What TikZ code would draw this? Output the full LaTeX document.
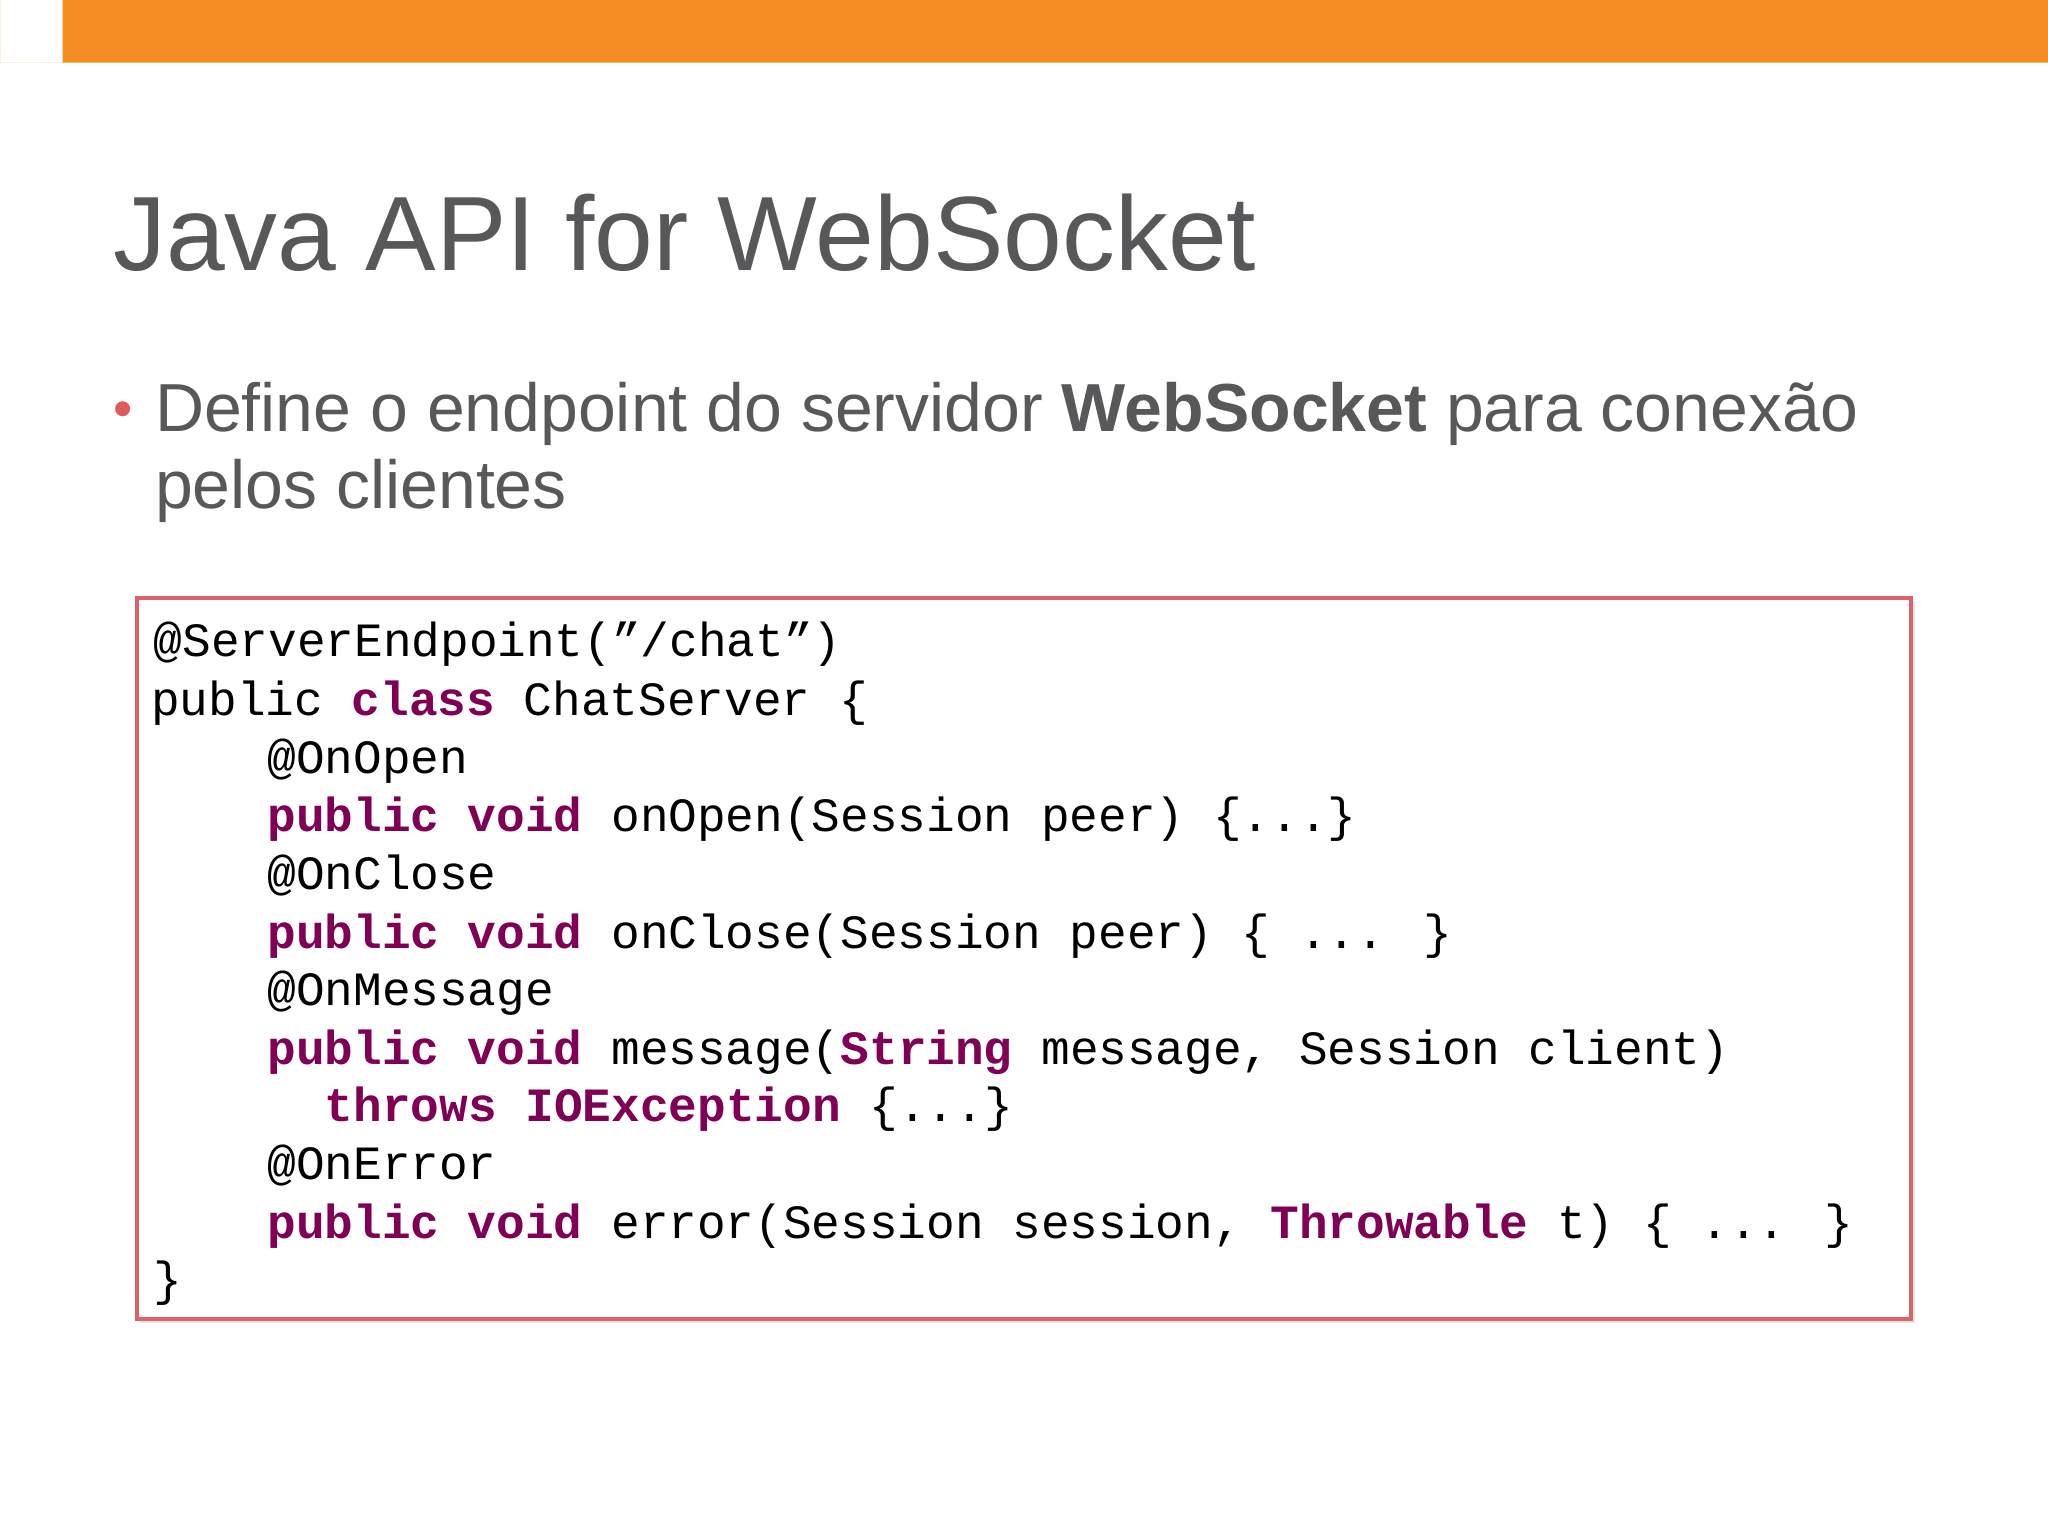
\documentclass[tikz,border=0pt]{standalone}
\usepackage{fontspec}
\setmainfont{Liberation Sans}
\newfontfamily\codefont{Liberation Mono}
\definecolor{orangebar}{HTML}{F28C23}
\definecolor{titlegrey}{HTML}{58585A}
\definecolor{kw}{HTML}{7F0055}
\definecolor{boxred}{HTML}{E06068}
\definecolor{bulletred}{HTML}{E0595B}
\begin{document}
\begin{tikzpicture}[x=0.01cm,y=-0.01cm,
  codeline/.style={anchor=base west,inner sep=0pt,font=\codefont\fontsize{10.4pt}{12pt}\selectfont,text=black},
  bodytext/.style={anchor=base west,inner sep=0pt,font=\fontsize{14.8pt}{18pt}\selectfont,text=titlegrey}]
\newcommand{\kwd}[1]{\textcolor{kw}{\bfseries #1}}
\useasboundingbox (0,0) rectangle (1568,1176);
\fill[white] (0,0) rectangle (1568,1176);
\fill[orangebar] (0,0) rectangle (48,48) -- (0,48) rectangle (1568,0);
\node[anchor=base west,inner sep=0pt,font=\fontsize{23pt}{27pt}\selectfont,text=titlegrey] (title) at (86,207) {Java API for WebSocket};
\node[anchor=base west,inner sep=0pt,text=bulletred,font=\fontsize{12pt}{14pt}\selectfont] (bul) at (86,327) {•};
\node[bodytext] (b1) at (118,330) {Define o endpoint do servidor \textbf{WebSocket} para conexão};
\node[bodytext] (b2) at (118,389) {pelos clientes};
\fill[black!10] (107,460) rectangle (1466,1013);
\draw[boxred,line width=0.9pt,fill=white] (105,458) rectangle (1463,1010);
\node[codeline] (l1) at (117,503) {@ServerEndpoint(”/chat”)};
\node[codeline] (l2) at (115,548) {public \kwd{class} ChatServer \{};
\node[codeline] (l3) at (204,592) {@OnOpen};
\node[codeline] (l4) at (204,637) {\kwd{public void} onOpen(Session peer) \{...\}};
\node[codeline] (l5) at (204,681) {@OnClose};
\node[codeline] (l6) at (204,726) {\kwd{public void} onClose(Session peer) \{ ... \}};
\node[codeline] (l7) at (204,770) {@OnMessage};
\node[codeline] (l8) at (204,815) {\kwd{public void} message(\kwd{String} message, Session client)};
\node[codeline] (l9) at (248,859) {\kwd{throws IOException} \{...\}};
\node[codeline] (l10) at (204,903) {@OnError};
\node[codeline] (l11) at (204,948) {\kwd{public void} error(Session session, \kwd{Throwable} t) \{ ... \}};
\node[codeline] (l12) at (117,992) {\}};
\end{tikzpicture}
\end{document}
